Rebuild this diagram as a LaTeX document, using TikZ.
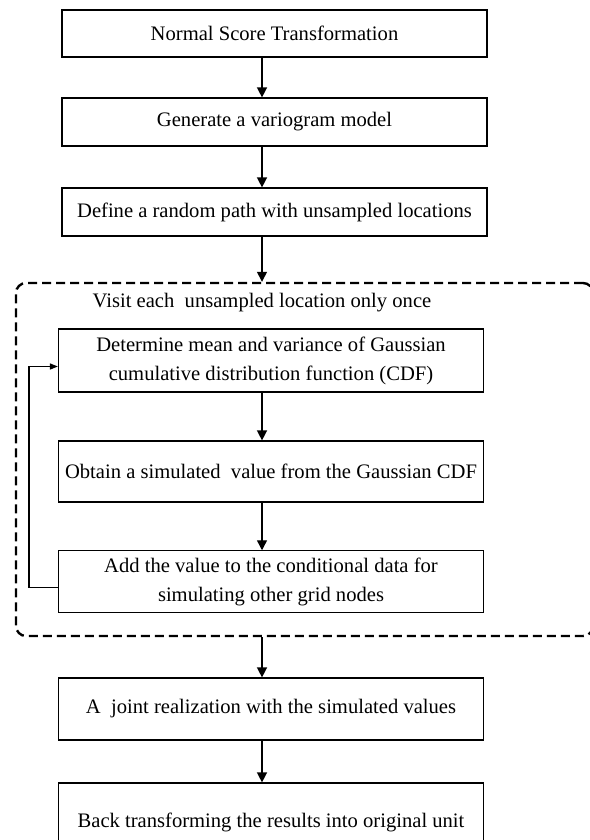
\documentclass[tikz,border=0pt]{standalone}
\usepackage{fontspec}
\setmainfont{Liberation Serif}
\usetikzlibrary{arrows.meta}

\tikzset{
  stepbox/.style={draw, line width=0.6pt, minimum width=212.5pt, align=center,
    font=\fontsize{10.3}{14.5}\selectfont},
  groupbox/.style={draw, line width=1.2pt, dash pattern=on 4.5pt off 2.5pt,
    rounded corners=5pt, minimum width=288.5pt, minimum height=176.5pt},
  arr/.style={line width=0.7pt, -{Triangle[length=5pt,width=5pt]}},
  back/.style={line width=0.7pt, -{Triangle[length=4pt,width=3pt]}}
}

\begin{document}
\begin{tikzpicture}[x=0.5pt, y=-0.5pt]
  \useasboundingbox (0,0) rectangle (589,840);
  \coordinate (ax) at (262,0);

  \node[stepbox, minimum height=23.5pt] (nst) at (274.5,33.5) {Normal Score Transformation};
  \node[stepbox, minimum height=24pt] (vario) at (274.5,122) {Generate a variogram model};
  \node[stepbox, minimum height=24pt] (path) at (274.5,212) {Define a random path with unsampled locations};

  \node[groupbox] (visit) at (304.5,459.5) {};
  \node[font=\fontsize{10.3}{14.5}\selectfont] (visitlbl) at (262,303) {Visit each\ \ unsampled location only once};

  \node[stepbox, minimum height=31.5pt] (cdf) at (271,360.5) {Determine mean and variance of Gaussian\\cumulative distribution function (CDF)};
  \node[stepbox, minimum height=30.5pt] (simval) at (271,471.5) {Obtain a simulated\ \ value from the Gaussian CDF};
  \node[stepbox, minimum height=30.5pt] (addval) at (271,581.5) {Add the value to the conditional data for\\simulating other grid nodes};

  \node[stepbox, minimum height=31pt] (joint) at (271,709) {A\ \ joint realization with the simulated values};
  \node[stepbox, minimum height=39pt] (backtr) at (271,822) {Back transforming the results into original unit};

  \draw[arr] (nst.south -| ax) -- (vario.north -| ax);
  \draw[arr] (vario.south -| ax) -- (path.north -| ax);
  \draw[arr] (path.south -| ax) -- (visit.north -| ax);
  \draw[arr] (cdf.south -| ax) -- (simval.north -| ax);
  \draw[arr] (simval.south -| ax) -- (addval.north -| ax);
  \draw[arr] (visit.south -| ax) -- (joint.north -| ax);
  \draw[arr] (joint.south -| ax) -- (backtr.north -| ax);

  % loop back to the CDF step
  \draw[back] ([yshift=-3pt]addval.west) -- ++(-29,0) |- ([yshift=-3pt]cdf.west);
\end{tikzpicture}
\end{document}
